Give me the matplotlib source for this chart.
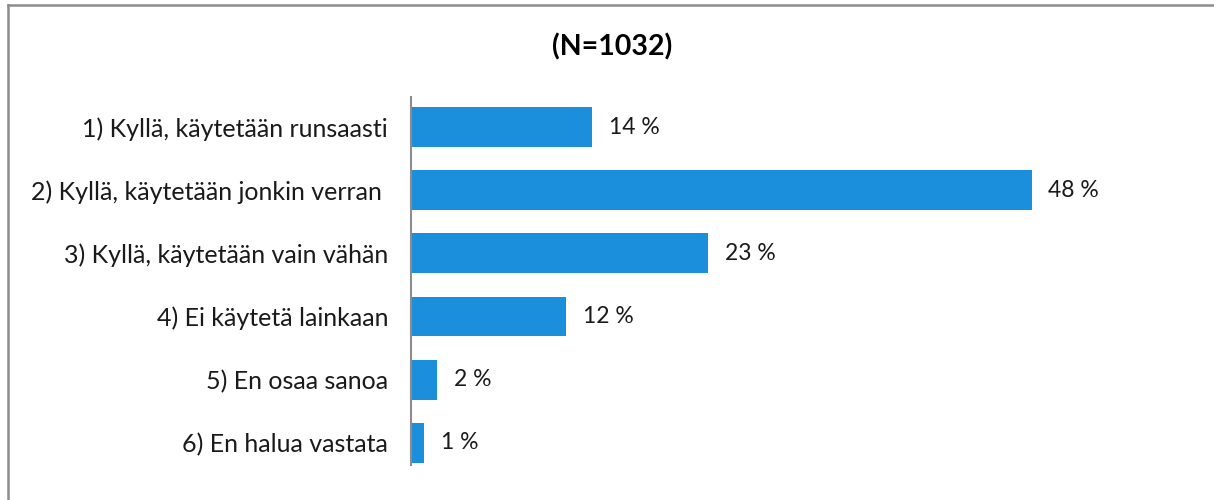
import matplotlib.pyplot as plt
from matplotlib.lines import Line2D

plt.rcParams["font.family"] = ["Lato", "DejaVu Sans"]

categories = [
    "1) Kyllä, käytetään runsaasti",
    "2) Kyllä, käytetään jonkin verran ",
    "3) Kyllä, käytetään vain vähän",
    "4) Ei käytetä lainkaan",
    "5) En osaa sanoa",
    "6) En halua vastata",
]
values = [14, 48, 23, 12, 2, 1]
value_labels = ["14 %", "48 %", "23 %", "12 %", "2 %", "1 %"]
title = "(N=1032)"

BLUE = "#1B8FDB"
GRID = "#8C8C8C"

fig = plt.figure(figsize=(12.14, 5.0), dpi=100, facecolor="white")
ax = fig.add_axes([411 / 1214, 0.07, 776 / 1214, 0.736])

y = list(range(len(categories)))
ax.barh(y, values, height=0.63, color=BLUE, zorder=2)
ax.set_xlim(0, 60)
ax.set_ylim(len(categories) - 0.65, -0.475)

ax.set_yticks(y)
ax.set_yticklabels(categories, fontsize=18, color="#1a1a1a")
ax.tick_params(axis="y", length=0, pad=16.5)
ax.set_xticks([])

for s in ["top", "right", "bottom"]:
    ax.spines[s].set_visible(False)
ax.spines["left"].set_color(GRID)
ax.spines["left"].set_linewidth(1.5)

for yi, v, lab in zip(y, values, value_labels):
    ax.annotate(lab, (v, yi), xytext=(12, 0), textcoords="offset points",
                ha="left", va="center", fontsize=16.5, color="#1a1a1a")

fig.text(612 / 1214, 1 - 47 / 500, title, ha="center", va="center",
         fontsize=20.5, weight="bold", color="black")

# outer frame (top and left edges visible)
fig.add_artist(Line2D([8 / 1214, 1], [1 - 5 / 500] * 2, transform=fig.transFigure,
                      color=GRID, lw=1.8))
fig.add_artist(Line2D([8 / 1214] * 2, [0, 1 - 5 / 500], transform=fig.transFigure,
                      color=GRID, lw=1.8))

fig.savefig("out.png", dpi=100)
